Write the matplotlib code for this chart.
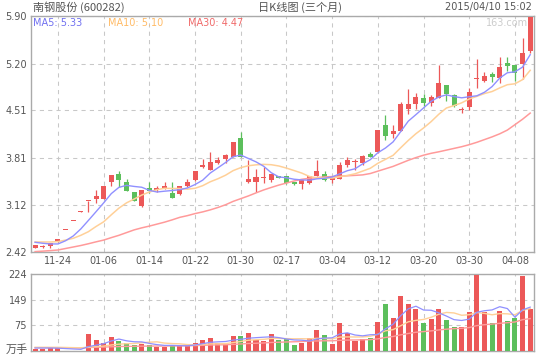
import matplotlib
matplotlib.use("Agg")
import matplotlib.pyplot as plt
import numpy as np

plt.rcParams['font.family'] = ['DejaVu Sans']
CJK = ['Noto Sans CJK SC', 'DejaVu Sans']

# ---------------- data ----------------
tick_dates = ['11-24', '01-06', '01-14', '01-22', '01-30', '02-17',
              '03-04', '03-12', '03-20', '03-30', '04-08']
tick_index = [3, 9, 15, 21, 27, 33, 39, 45, 51, 57, 63]

opens = [2.49, 2.50, 2.51, 2.57, 2.75, 2.88, 3.02, 3.17, 3.21, 3.21, 3.45, 3.57, 3.45, 3.31, 3.10, 3.36,
         3.34, 3.36, 3.30, 3.28, 3.39, 3.48, 3.67, 3.63, 3.74, 3.79, 3.83, 4.10, 3.45, 3.45, 3.51, 3.49,
         3.54, 3.55, 3.46, 3.42, 3.44, 3.55, 3.58, 3.49, 3.50, 3.70, 3.75, 3.73, 3.87, 3.90, 4.30, 4.16,
         4.21, 4.53, 4.60, 4.69, 4.62, 4.69, 4.88, 4.73, 4.515, 4.56, 4.97, 4.94, 5.04, 4.99, 5.21, 5.18,
         5.20, 5.38]
closes = [2.53, 2.51, 2.55, 2.61, 2.75, 2.88, 3.03, 3.18, 3.25, 3.40, 3.56, 3.49, 3.33, 3.17, 3.34, 3.33,
          3.37, 3.39, 3.22, 3.40, 3.46, 3.62, 3.71, 3.75, 3.78, 3.85, 4.05, 3.83, 3.50, 3.53, 3.53, 3.57,
          3.52, 3.44, 3.42, 3.48, 3.55, 3.62, 3.48, 3.52, 3.71, 3.78, 3.76, 3.84, 3.83, 4.22, 4.13, 4.21,
          4.60, 4.60, 4.70, 4.62, 4.70, 4.92, 4.75, 4.58, 4.525, 4.78, 4.99, 5.01, 5.00, 5.15, 5.17, 5.06,
          5.36, 5.89]
highs = [2.53, 2.53, 2.55, 2.61, 2.75, 2.88, 3.03, 3.18, 3.34, 3.40, 3.56, 3.62, 3.50, 3.31, 3.34, 3.45,
         3.39, 3.45, 3.45, 3.40, 3.50, 3.62, 3.80, 3.90, 3.83, 3.87, 4.05, 4.19, 3.78, 3.65, 3.68, 3.58,
         3.55, 3.55, 3.46, 3.48, 3.55, 3.78, 3.62, 3.52, 3.75, 3.82, 3.80, 3.85, 3.90, 4.22, 4.44, 4.30,
         4.63, 4.82, 4.76, 4.75, 4.73, 5.18, 4.88, 4.75, 4.56, 4.84, 5.26, 5.08, 5.08, 5.30, 5.29, 5.18,
         5.58, 5.89]
lows = [2.49, 2.49, 2.49, 2.57, 2.75, 2.88, 3.02, 3.02, 3.14, 3.20, 3.39, 3.38, 3.33, 3.17, 3.09, 3.29,
        3.31, 3.35, 3.22, 3.27, 3.38, 3.47, 3.66, 3.63, 3.72, 3.74, 3.83, 3.83, 3.44, 3.31, 3.44, 3.45,
        3.51, 3.43, 3.41, 3.35, 3.43, 3.54, 3.47, 3.44, 3.50, 3.67, 3.63, 3.71, 3.83, 3.88, 4.07, 4.10,
        4.20, 4.46, 4.53, 4.58, 4.57, 4.69, 4.65, 4.56, 4.47, 4.51, 4.84, 4.93, 4.93, 4.91, 5.09, 4.95,
        4.97, 5.35]

ma5 = [2.567, 2.553, 2.543, 2.543, 2.59, 2.66, 2.764, 2.89, 3.018, 3.148, 3.284, 3.376, 3.406, 3.39,
       3.378, 3.332, 3.308, 3.32, 3.33, 3.342, 3.368, 3.418, 3.482, 3.588, 3.664, 3.742, 3.828, 3.852,
       3.802, 3.752, 3.688, 3.592, 3.53, 3.518, 3.496, 3.486, 3.482, 3.502, 3.51, 3.53, 3.576, 3.622,
       3.65, 3.722, 3.784, 3.886, 3.956, 4.046, 4.198, 4.352, 4.448, 4.546, 4.644, 4.708, 4.738, 4.714,
       4.695, 4.711, 4.725, 4.777, 4.861, 4.986, 5.064, 5.078, 5.148, 5.33]
ma10 = [2.572, 2.572, 2.572, 2.577, 2.60, 2.626, 2.67, 2.724, 2.80, 2.869, 2.972, 3.07, 3.148, 3.204,
        3.263, 3.308, 3.342, 3.363, 3.36, 3.36, 3.35, 3.363, 3.401, 3.459, 3.503, 3.555, 3.623, 3.667,
        3.695, 3.708, 3.715, 3.71, 3.691, 3.66, 3.624, 3.587, 3.537, 3.516, 3.514, 3.513, 3.531, 3.552,
        3.576, 3.616, 3.657, 3.731, 3.789, 3.848, 3.96, 4.068, 4.167, 4.251, 4.345, 4.453, 4.545, 4.581,
        4.621, 4.678, 4.717, 4.758, 4.788, 4.841, 4.888, 4.902, 4.963, 5.10]
ma30 = [2.43, 2.437, 2.445, 2.454, 2.476, 2.498, 2.52, 2.546, 2.574, 2.60, 2.636, 2.67, 2.71, 2.75,
        2.78, 2.806, 2.835, 2.864, 2.898, 2.935, 2.96, 2.99, 3.015, 3.045, 3.08, 3.12, 3.17, 3.21, 3.25,
        3.295, 3.338, 3.375, 3.41, 3.44, 3.47, 3.495, 3.51, 3.52, 3.53, 3.535, 3.54, 3.547, 3.553, 3.56,
        3.58, 3.615, 3.65, 3.685, 3.73, 3.775, 3.815, 3.85, 3.878, 3.90, 3.925, 3.95, 3.975, 4.005, 4.04,
        4.08, 4.12, 4.165, 4.22, 4.30, 4.38, 4.47]

volume = [6, 6, 9, 10, 0.3, 0.3, 0.3, 49, 31, 23, 39, 29, 23, 17, 21, 17, 11, 12, 17, 16, 16, 23, 31,
          37, 23, 21, 43, 43, 53, 31, 28, 49, 31, 33, 17, 24, 37, 61, 46, 21, 81, 53, 29, 34, 37, 84,
          137, 96, 160, 137, 122, 81, 93, 122, 90, 69, 69, 113, 222, 113, 81, 116, 86, 95, 220, 122]
vma5 = [8, 8, 8, 7.5, 6.3, 5.1, 4.0, 12, 16.2, 20.7, 28.5, 34.2, 29, 26.2, 25.8, 21.4, 17.8, 15.6,
        15.6, 14.6, 14.4, 16.8, 20.6, 24.6, 26, 27, 31, 33.4, 36.6, 38.2, 39.6, 40.8, 38.4, 34.4, 31.6,
        30.8, 28.4, 34.4, 37, 37.8, 49.2, 52.4, 46, 43.6, 46.8, 47.4, 64.2, 77.6, 102.8, 122.8, 130.4,
        119.2, 118.6, 111, 101.6, 91, 88.6, 92.6, 112.6, 117.2, 119.6, 129, 123.6, 98.2, 119.6, 127.8]
vma10 = [10, 10, 10, 10, 9.5, 9, 8.5, 10.5, 12, 13.5, 16.8, 19.1, 20.5, 21.2, 23.3, 24.9, 26, 22.3,
         20.9, 20.2, 17.9, 17.3, 18.1, 20.1, 20.3, 20.7, 23.9, 27, 30.6, 32.1, 33.3, 35.9, 35.9, 35.5,
         34.9, 35.2, 34.6, 36.4, 35.7, 34.7, 40, 40.4, 40.2, 40.3, 42.3, 48.3, 58.3, 61.8, 73.2, 84.8,
         88.9, 91.7, 98.1, 106.9, 112.2, 110.7, 103.9, 105.6, 111.8, 109.4, 105.3, 108.8, 108.1, 105.4,
         118.4, 123.7]
vma30 = [8.9, 8.8, 8.8, 8.8, 8.5, 8.3, 8.0, 9.3, 10.0, 10.5, 11.5, 12.2, 12.6, 12.9, 13.3, 13.6, 13.6,
         13.7, 14.0, 14.2, 14.5, 14.9, 15.7, 16.6, 17.1, 17.5, 18.6, 19.7, 21.2, 21.9, 22.7, 24.1, 24.8,
         25.6, 26.2, 26.9, 28.2, 28.6, 29.1, 29.0, 30.4, 31.2, 31.4, 32.0, 32.5, 34.7, 38.9, 41.7, 46.5,
         50.5, 54.1, 56.0, 58.1, 60.9, 63.1, 64.7, 65.6, 67.9, 73.6, 76.3, 78.1, 80.3, 82.1, 84.2, 91.0,
         94.2]

price_ticks = [2.42, 3.12, 3.81, 4.51, 5.20, 5.90]
volume_ticks = [0, 75, 149, 224]
volume_tick_labels = ['', '75', '149', '224']
volume_unit = '万手'

# ---------------- style ----------------
RED = '#ec5858'
GREEN = '#5cbf5c'
C_MA5 = '#9090ff'
C_MA10 = '#ffd098'
C_MA30 = '#ff9a9a'
GRID = '#c8c8c8'
SPINE = '#aaaaaa'
TXT = '#555555'

W, H = 540, 360
fig = plt.figure(figsize=(5.4, 3.6), dpi=100)
left, right = 31.3, 534.0
ax = fig.add_axes([left / W, 1 - 252.3 / H, (right - left) / W, (252.3 - 16.0) / H])
axv = fig.add_axes([left / W, 1 - 350.7 / H, (right - left) / W, (350.7 - 274.3) / H])

n = len(closes)
x = np.arange(n)
o = np.array(opens); c = np.array(closes); hi = np.array(highs); lo = np.array(lows)
up = c >= o
colors = np.where(up, RED, GREEN)

# candles
body_w = 0.66
ax.vlines(x, lo, hi, colors=colors, linewidth=0.9, zorder=2)
body_h = np.maximum(np.abs(c - o), 0.015)
ax.bar(x, body_h, bottom=np.minimum(o, c), width=body_w, color=colors, linewidth=0, zorder=3)

ax.plot(x, ma30, color=C_MA30, lw=1.1, zorder=4)
ax.plot(x, ma10, color=C_MA10, lw=1.1, zorder=4)
ax.plot(x, ma5, color=C_MA5, lw=1.0, zorder=5)

ax.set_xlim(-0.5, 65.5)
ax.set_ylim(price_ticks[0], price_ticks[-1])
ax.set_yticks(price_ticks)
ax.set_yticklabels([f'{t:.2f}' for t in price_ticks])
ax.set_xticks(tick_index)
ax.set_xticklabels(tick_dates)

# volume
axv.bar(x, volume, width=body_w, color=colors, linewidth=0, zorder=3)
axv.plot(x, vma30, color=C_MA30, lw=1.0, zorder=4)
axv.plot(x, vma10, color=C_MA10, lw=1.0, zorder=4)
axv.plot(x, vma5, color=C_MA5, lw=0.9, zorder=5)
axv.set_xlim(-0.5, 65.5)
axv.set_ylim(volume_ticks[0], volume_ticks[-1])
axv.set_yticks(volume_ticks)
axv.set_yticklabels(volume_tick_labels)
axv.set_xticks(tick_index)
axv.set_xticklabels([])

for a in (ax, axv):
    for s in a.spines.values():
        s.set_color(SPINE)
        s.set_linewidth(1.0)
    a.tick_params(length=0, labelsize=7, colors=TXT, pad=3)
    a.grid(True, color=GRID, linestyle=(0, (4, 4)), linewidth=0.75, zorder=0)
    a.set_axisbelow(True)

fig.text(28 / W, 1 - 349.5 / H, volume_unit, family=CJK, fontsize=8, color=TXT, ha='right', va='center')

# header texts
fig.text(33 / W, 1 - 7 / H, '南钢股份 (600282)', family=CJK, fontsize=8, color=TXT, ha='left', va='center')
fig.text(300 / W, 1 - 7 / H, '日K线图 (三个月)', family=CJK, fontsize=8, color=TXT, ha='center', va='center')
fig.text(532 / W, 1 - 7 / H, '2015/04/10 15:02', fontsize=7, color=TXT, ha='right', va='center')

fig.text(33 / W, 1 - 23 / H, f'MA5: {ma5[-1]:.2f}', fontsize=7, color='#7070f0', ha='left', va='center')
fig.text(107.5 / W, 1 - 23 / H, f'MA10: {ma10[-1]:.2f}', fontsize=7, color='#ffbb66', ha='left', va='center')
fig.text(188 / W, 1 - 23 / H, f'MA30: {ma30[-1]:.2f}', fontsize=7, color='#f06a6a', ha='left', va='center')
fig.text(528 / W, 1 - 23 / H, '163.com', fontsize=7, color='#cccccc', ha='right', va='center')

fig.savefig('out.png', dpi=100)
